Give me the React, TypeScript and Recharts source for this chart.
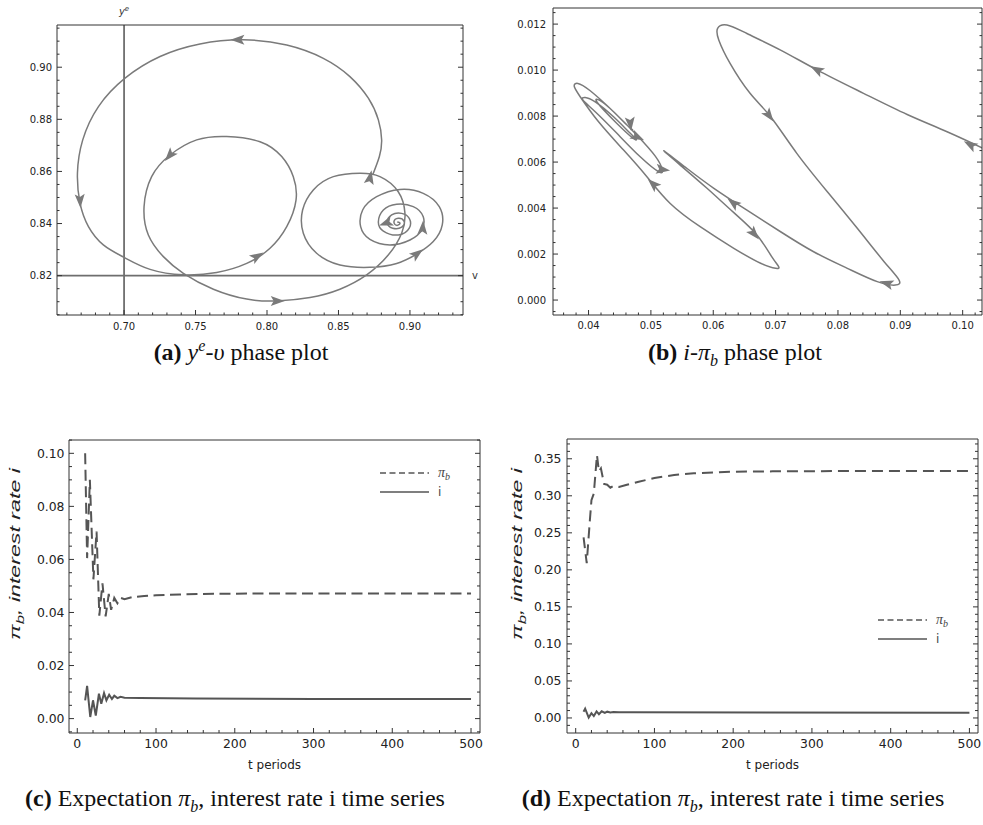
import React from 'react';
import { ComposedChart, Line, Scatter, XAxis, YAxis, ReferenceLine, Legend } from 'recharts';

// ---------- helpers ----------
const range = (a: number, b: number, s: number) => {
  const out: number[] = [];
  const n = Math.round((b - a) / s);
  for (let i = 0; i <= n; i++) out.push(+(a + i * s).toFixed(6));
  return out;
};

// ---------- Panel (a): y^e - v phase plot ----------
const aV = [
  0.8739, 0.8786, 0.8802, 0.8779, 0.8709, 0.8580, 0.8394, 0.8138, 0.7835, 0.7531,
  0.7252, 0.7007, 0.6821, 0.6711, 0.6674, 0.6692, 0.6751, 0.6855, 0.7000, 0.7182,
  0.7415, 0.7648, 0.7858, 0.8021, 0.8138, 0.8203, 0.8184, 0.8103, 0.7951, 0.7718,
  0.7508, 0.7322, 0.7193, 0.7140, 0.7170, 0.7275, 0.7415, 0.7625, 0.7858, 0.8068,
  0.8301, 0.8510, 0.8697, 0.8848, 0.8942, 0.8965, 0.8918, 0.8790, 0.8650, 0.8464,
  0.8324, 0.8249, 0.8254, 0.8347, 0.8510, 0.8720, 0.8907, 0.9047, 0.9163, 0.9226,
  0.9205, 0.9093, 0.8930, 0.8767, 0.8669, 0.8655, 0.8720, 0.8860, 0.9000, 0.9082,
  0.9093, 0.9023, 0.8907, 0.8814, 0.8779, 0.8814, 0.8918, 0.8995, 0.8995, 0.8942,
  0.8872, 0.8841, 0.8879, 0.8942, 0.8958, 0.8918, 0.8888, 0.8907, 0.8930, 0.8911,
];
const aYe = [
  0.8586, 0.8657, 0.8721, 0.8798, 0.8881, 0.8964, 0.9034, 0.9085, 0.9105, 0.9089,
  0.9041, 0.8958, 0.8849, 0.8721, 0.8593, 0.8478, 0.8388, 0.8318, 0.8270, 0.8224,
  0.8203, 0.8212, 0.8247, 0.8305, 0.8388, 0.8490, 0.8580, 0.8657, 0.8714, 0.8734,
  0.8721, 0.8663, 0.8580, 0.8465, 0.8356, 0.8273, 0.8209, 0.8148, 0.8110, 0.8103,
  0.8116, 0.8148, 0.8203, 0.8279, 0.8363, 0.8439, 0.8522, 0.8580, 0.8593, 0.8580,
  0.8529, 0.8452, 0.8363, 0.8286, 0.8241, 0.8232, 0.8247, 0.8283, 0.8331, 0.8395,
  0.8465, 0.8516, 0.8531, 0.8503, 0.8452, 0.8388, 0.8339, 0.8318, 0.8337, 0.8375,
  0.8426, 0.8465, 0.8474, 0.8452, 0.8407, 0.8371, 0.8356, 0.8382, 0.8420, 0.8439,
  0.8433, 0.8403, 0.8382, 0.8386, 0.8409, 0.8420, 0.8407, 0.8393, 0.8401, 0.8406,
];
const aArrowV = [0.7800, 0.6692, 0.7322, 0.7928, 0.8068, 0.8720, 0.9047, 0.9089, 0.8837];
const aArrowYe = [0.9105, 0.8490, 0.8663, 0.8273, 0.8103, 0.8574, 0.8283, 0.8381, 0.8403];
const aArrowDV = [-0.01, 0.0005, -0.0129, 0.0093, 0.01, 0.003, 0.0116, 0.0005, -0.005];
const aArrowDYe = [0, -0.005, -0.0083, 0.0032, 0, 0.008, 0.0048, 0.005, -0.001];
const aXMajor = [0.70, 0.75, 0.80, 0.85, 0.90];
const aYMajor = [0.82, 0.84, 0.86, 0.88, 0.90];

// ---------- Panel (b): i - pi_b phase plot ----------
const bPib = [
  0.1061, 0.1031, 0.0975, 0.0911, 0.0841, 0.0767, 0.0708, 0.0654, 0.0622, 0.0607,
  0.0609, 0.0627, 0.0659, 0.0692, 0.0734, 0.0783, 0.0831, 0.0874, 0.0898, 0.0892,
  0.0863, 0.0815, 0.0761, 0.0708, 0.0654, 0.0601, 0.0558, 0.0521, 0.0547, 0.0590,
  0.0633, 0.0670, 0.0694, 0.0705, 0.0700, 0.0676, 0.0633, 0.0579, 0.0531, 0.04936,
  0.04562, 0.04161, 0.03866, 0.0377, 0.03829, 0.04027, 0.04401, 0.04776, 0.0507, 0.05182,
  0.05124, 0.04829, 0.04455, 0.04107, 0.03909, 0.03946, 0.04107, 0.04401, 0.04669, 0.04765,
  0.04712, 0.04455, 0.04144, 0.04187, 0.04401, 0.04615, 0.04712,
];
const bI = [
  0.00623, 0.00662, 0.00732, 0.00807, 0.00899, 0.0100, 0.01087, 0.01159, 0.01196, 0.01181,
  0.0113, 0.01029, 0.00899, 0.00797, 0.00638, 0.00471, 0.00312, 0.00167, 0.00087, 0.00065,
  0.00080, 0.00138, 0.0021, 0.00297, 0.00391, 0.00486, 0.00572, 0.00649, 0.00587, 0.00486,
  0.0038, 0.00283, 0.00188, 0.00145, 0.00138, 0.0016, 0.00225, 0.00319, 0.0042, 0.00536,
  0.00652, 0.00775, 0.00884, 0.0093, 0.00942, 0.0091, 0.00819, 0.00717, 0.00626, 0.00568,
  0.00558, 0.00623, 0.00725, 0.00819, 0.0087, 0.00881, 0.00862, 0.00797, 0.00725, 0.00699,
  0.00704, 0.00768, 0.00858, 0.00867, 0.00819, 0.00761, 0.00739,
];
const bArrowPib = [0.1013, 0.0767, 0.0689, 0.0879, 0.0633, 0.0665, 0.05043, 0.0518, 0.04776, 0.0467];
const bArrowI = [0.00674, 0.0100, 0.00804, 0.00072, 0.0042, 0.0029, 0.00503, 0.00568, 0.0071, 0.0077];
const bArrowDPib = [-0.0038, -0.0059, 0.0045, -0.006, -0.0032, 0.0061, -0.0048, 0.003, 0.003, 0.0003];
const bArrowDI = [0.00058, 0.00087, -0.00166, 0.0005, 0.00066, -0.00192, 0.00123, -0.0001, -0.0004, -0.0008];
const bXMajor = [0.04, 0.05, 0.06, 0.07, 0.08, 0.09, 0.10];
const bYMajor = [0, 0.002, 0.004, 0.006, 0.008, 0.010, 0.012];

// ---------- Panel (c): time series ----------
const cPibT = [10, 12.5, 16, 20.5, 24.5, 28, 32, 36, 40, 43, 47, 51, 55, 60, 70, 85, 100, 130, 160, 200, 300, 400, 500];
const cPib = [0.100, 0.0605, 0.090, 0.0525, 0.0705, 0.0388, 0.051, 0.0385, 0.047, 0.041, 0.0455, 0.0435, 0.0455, 0.045, 0.0458, 0.0462, 0.0465, 0.0468, 0.047, 0.0471, 0.0472, 0.0472, 0.0472];
const cIT = [10, 12.5, 16.5, 20, 23.5, 27.5, 30.5, 34, 37, 40.5, 44, 47, 51, 55, 60, 80, 150, 300, 500];
const cI = [0.0069, 0.0123, 0.0006, 0.0069, 0.0011, 0.0094, 0.0056, 0.0096, 0.0069, 0.009, 0.0074, 0.0086, 0.0077, 0.0082, 0.0079, 0.0078, 0.0076, 0.0074, 0.0074];
const cYMajor = [0, 0.02, 0.04, 0.06, 0.08, 0.10];

// ---------- Panel (d): time series ----------
const dPibT = [10, 14, 18, 20, 23, 27, 29.5, 32, 36, 40, 44, 48, 55, 65, 80, 100, 125, 150, 200, 250, 350, 500];
const dPib = [0.244, 0.209, 0.267, 0.294, 0.303, 0.355, 0.333, 0.337, 0.316, 0.315, 0.311, 0.3135, 0.312, 0.315, 0.319, 0.324, 0.328, 0.3305, 0.3325, 0.333, 0.3335, 0.3335];
const dIT = [10, 12, 16.5, 20, 23, 26.5, 29.5, 33, 37, 40, 44, 48, 55, 70, 500];
const dI = [0.0085, 0.0126, 0.0005, 0.0065, 0.0025, 0.0088, 0.005, 0.009, 0.0068, 0.0085, 0.0074, 0.0081, 0.0077, 0.0076, 0.0072];
const dYMajor = [0, 0.05, 0.10, 0.15, 0.20, 0.25, 0.30, 0.35];

const tMajor = [0, 100, 200, 300, 400, 500];

// ---------- styles ----------
const FONT = "'DejaVu Sans', 'Liberation Sans', sans-serif";
const SERIF = "'Liberation Serif', 'Times New Roman', serif";
const FRAME = '#333';
const CURVE = '#7a7a7a';
const TS = '#555';

type Side = 'left' | 'right' | 'top' | 'bottom';
const makeTick = (side: Side, majors: number[], digits: number, majLen: number, minLen: number, fontSize: number, gap: number, showLabel: boolean) =>
  (props: any) => {
    const { x, y, payload } = props;
    const v = Number(payload.value);
    const isMajor = majors.some((m) => Math.abs(m - v) < 1e-7);
    const len = isMajor ? majLen : minLen;
    let x2 = x, y2 = y;
    if (side === 'left') x2 = x + len;
    if (side === 'right') x2 = x - len;
    if (side === 'bottom') y2 = y - len;
    if (side === 'top') y2 = y + len;
    let label: any = null;
    if (showLabel && isMajor) {
      const txt = v.toFixed(digits);
      if (side === 'left') {
        label = <text x={x - gap} y={y + fontSize * 0.36} textAnchor="end" fontFamily={FONT} fontSize={fontSize} fill="#222">{txt}</text>;
      } else if (side === 'bottom') {
        label = <text x={x} y={y + gap} textAnchor="middle" fontFamily={FONT} fontSize={fontSize} fill="#222">{txt}</text>;
      }
    }
    return (
      <g>
        <line x1={x} y1={y} x2={x2} y2={y2} stroke={FRAME} strokeWidth={1} />
        {label}
      </g>
    );
  };

const arrowShape = (kx: number, ky: number) => (props: any) => {
  const { cx, cy, payload } = props;
  if (cx == null || cy == null) return <g />;
  const ang = (Math.atan2(-payload.dy * ky, payload.dx * kx) * 180) / Math.PI;
  return (
    <path d="M8,0 L-6,-5 L-3,0 L-6,5 Z" transform={`translate(${cx},${cy}) rotate(${ang})`} fill={CURVE} stroke="none" />
  );
};

// ---------- panel geometry (top / right frame axes take 1px each) ----------
const A = { w: 490, h: 345, m: { top: 24, right: 26, bottom: 5, left: 0 }, yw: 57, xh: 25, xd: [0.6531, 0.9371] as [number, number], yd: [0.8049, 0.9162] as [number, number] };
const B = { w: 493, h: 345, m: { top: 7, right: 0, bottom: 5, left: 0 }, yw: 63, xh: 25, xd: [0.0343, 0.1031] as [number, number], yd: [-0.00065, 0.0127] as [number, number] };
const C = { w: 490, h: 360, m: { top: 19, right: 9, bottom: 5, left: 0 }, yw: 69, xh: 42, xd: [-10.5, 511.4] as [number, number], yd: [-0.00543, 0.10502] as [number, number] };
const D = { w: 493, h: 360, m: { top: 18, right: 4, bottom: 5, left: 0 }, yw: 77, xh: 42, xd: [-11.05, 510.9] as [number, number], yd: [-0.0203, 0.3767] as [number, number] };

const scaleK = (P: any) => {
  const pw = P.w - P.m.left - P.m.right - P.yw - 1;
  const ph = P.h - P.m.top - P.m.bottom - P.xh - 1;
  return { kx: pw / (P.xd[1] - P.xd[0]), ky: ph / (P.yd[1] - P.yd[0]) };
};

// ---------- data tables ----------
const aPath = aV.map((v, i) => ({ x: v, y: aYe[i] }));
const aArrows = aArrowV.map((v, i) => ({ x: v, y: aArrowYe[i], dx: aArrowDV[i], dy: aArrowDYe[i] }));
const bPath = bPib.map((p, i) => ({ x: p, y: bI[i] }));
const bArrows = bArrowPib.map((p, i) => ({ x: p, y: bArrowI[i], dx: bArrowDPib[i], dy: bArrowDI[i] }));
const cPibData = cPibT.map((t, i) => ({ t, pib: cPib[i] }));
const cIData = cIT.map((t, i) => ({ t, i: cI[i] }));
const dPibData = dPibT.map((t, i) => ({ t, pib: dPib[i] }));
const dIData = dIT.map((t, i) => ({ t, i: dI[i] }));

// ---------- frame axes ----------
const frameAxes = (P: any, xKey: string, xTicks: number[], yTicks: number[], xMaj: number[], yMaj: number[], xd: number, yd: number, fs: number, majLen: number, minLen: number, xGap: number, yGap: number, xLabel?: any, yLabel?: any) => [
  <XAxis key="xb" xAxisId="b" type="number" dataKey={xKey} domain={P.xd} allowDataOverflow ticks={xTicks} interval={0}
    tickSize={0} tickMargin={0} tickLine={false} axisLine={{ stroke: FRAME, strokeWidth: 1 }} height={P.xh}
    tick={makeTick('bottom', xMaj, xd, majLen, minLen, fs, xGap, true)} label={xLabel} />,
  <XAxis key="xt" xAxisId="t" orientation="top" type="number" domain={P.xd} allowDataOverflow ticks={xTicks} interval={0}
    tickSize={0} tickMargin={0} tickLine={false} axisLine={{ stroke: FRAME, strokeWidth: 1 }} height={1}
    tick={makeTick('top', xMaj, xd, majLen, minLen, fs, 0, false)} />,
  <YAxis key="yl" yAxisId="l" type="number" domain={P.yd} allowDataOverflow ticks={yTicks} interval={0}
    tickSize={0} tickMargin={0} tickLine={false} axisLine={{ stroke: FRAME, strokeWidth: 1 }} width={P.yw}
    tick={makeTick('left', yMaj, yd, majLen, minLen, fs, yGap, true)} label={yLabel} />,
  <YAxis key="yr" yAxisId="r" orientation="right" type="number" domain={P.yd} allowDataOverflow ticks={yTicks} interval={0}
    tickSize={0} tickMargin={0} tickLine={false} axisLine={{ stroke: FRAME, strokeWidth: 1 }} width={1}
    tick={makeTick('right', yMaj, yd, majLen, minLen, fs, 0, false)} />,
];

const renderYe = (props: any) => {
  const vb = props.viewBox || {};
  return (
    <text x={vb.x} y={vb.y - 10} textAnchor="middle" fontFamily={FONT} fontSize={10} fontStyle="italic" fill="#333">
      y<tspan dy={-4} fontSize={7}>e</tspan>
    </text>
  );
};
const renderV = (props: any) => {
  const vb = props.viewBox || {};
  return (
    <text x={vb.x + vb.width + 12} y={vb.y + 3.5} textAnchor="middle" fontFamily={FONT} fontSize={10} fill="#333">v</text>
  );
};

const tLabel = (props: any) => {
  const vb = props.viewBox || {};
  return (
    <text x={vb.x + vb.width / 2} y={vb.y + 36} textAnchor="middle" fontFamily={FONT} fontSize={12} fill="#222">t periods</text>
  );
};
const yLabelAt = (cxLocal: number, cyLocal: number) => () => (
  <text transform={`translate(${cxLocal + 5},${cyLocal}) rotate(-90) scale(1.6,1)`} textAnchor="middle" fontFamily="'Liberation Sans', Arial, sans-serif"
    fontStyle="italic" fontSize={14.5} fill="#222">
    π<tspan dy={3.5} fontSize={10.5}>b</tspan><tspan dy={-3.5}>, interest rate i</tspan>
  </text>
);

const renderLegend = (props: any) => {
  const items = [...(props.payload || [])].sort((p: any, q: any) => (p.dataKey === 'pib' ? -1 : 0) - (q.dataKey === 'pib' ? -1 : 0));
  return (
    <svg width={90} height={44} style={{ overflow: 'visible' }}>
      {items.map((e: any, idx: number) => {
        const yy = 12 + idx * 19;
        const dashed = e.dataKey === 'pib';
        return (
          <g key={idx}>
            <line x1={4} x2={53} y1={yy} y2={yy} stroke={TS} strokeWidth={1.5} strokeDasharray={dashed ? '6 3.5' : undefined} />
            {dashed ? (
              <text x={62} y={yy + 4} fontFamily={SERIF} fontStyle="italic" fontSize={14} fill="#444">π<tspan dy={3} fontSize={10}>b</tspan></text>
            ) : (
              <text x={62} y={yy + 4} fontFamily={FONT} fontSize={12} fill="#444">i</text>
            )}
          </g>
        );
      })}
    </svg>
  );
};

const capStyle: React.CSSProperties = { position: 'absolute', width: 480, textAlign: 'center', fontFamily: SERIF, fontSize: 24, lineHeight: '28px', color: '#111', whiteSpace: 'nowrap' };
const subStyle: React.CSSProperties = { fontSize: 16, verticalAlign: 'sub', lineHeight: 0, fontStyle: 'italic' };

export default function App() {
  const ka = scaleK(A);
  const kb = scaleK(B);
  return (
    <div style={{ position: 'absolute', left: 0, top: 0, width: 983, height: 825, background: '#fff', overflow: 'hidden' }}>
      {/* (a) */}
      <div style={{ position: 'absolute', left: 0, top: 0 }}>
        <ComposedChart width={A.w} height={A.h} margin={A.m}>
          {frameAxes(A, 'x', range(0.66, 0.93, 0.01), range(0.805, 0.915, 0.005), aXMajor, aYMajor, 2, 2, 10, 5, 2.5, 15, 5)}
          <ReferenceLine xAxisId="b" yAxisId="l" x={0.70} stroke="#111" strokeWidth={1.1} label={renderYe} />
          <ReferenceLine xAxisId="b" yAxisId="l" y={0.82} stroke="#6e6e6e" strokeWidth={1.7} label={renderV} />
          <Line xAxisId="b" yAxisId="l" data={aPath} dataKey="y" type="natural" stroke={CURVE} strokeWidth={1.5} dot={false} activeDot={false} isAnimationActive={false} />
          <Scatter xAxisId="b" yAxisId="l" data={aArrows} dataKey="y" shape={arrowShape(ka.kx, ka.ky)} isAnimationActive={false} />
        </ComposedChart>
      </div>
      {/* (b) */}
      <div style={{ position: 'absolute', left: 490, top: 0 }}>
        <ComposedChart width={B.w} height={B.h} margin={B.m}>
          {frameAxes(B, 'x', range(0.036, 0.102, 0.002), range(-0.0005, 0.0125, 0.0005), bXMajor, bYMajor, 2, 3, 10, 5, 2.5, 14, 7)}
          <Line xAxisId="b" yAxisId="l" data={bPath} dataKey="y" type="natural" stroke={CURVE} strokeWidth={1.5} dot={false} activeDot={false} isAnimationActive={false} />
          <Scatter xAxisId="b" yAxisId="l" data={bArrows} dataKey="y" shape={arrowShape(kb.kx, kb.ky)} isAnimationActive={false} />
        </ComposedChart>
      </div>
      {/* (c) */}
      <div style={{ position: 'absolute', left: 0, top: 420 }}>
        <ComposedChart width={C.w} height={C.h} margin={C.m}>
          {frameAxes(C, 't', range(0, 500, 20), range(-0.005, 0.105, 0.005), tMajor, cYMajor, 0, 2, 12.4, 5, 3, 15, 4.5, tLabel, yLabelAt(15, 134))}
          <Line xAxisId="b" yAxisId="l" data={cPibData} dataKey="pib" name="π_b" type="linear" stroke={TS} strokeWidth={2} strokeDasharray="11 5.5" dot={false} activeDot={false} isAnimationActive={false} />
          <Line xAxisId="b" yAxisId="l" data={cIData} dataKey="i" name="i" type="linear" stroke={TS} strokeWidth={2} dot={false} activeDot={false} isAnimationActive={false} />
          <Legend layout="vertical" align="center" verticalAlign="middle" content={renderLegend} wrapperStyle={{ left: 376, top: 41, width: 90, height: 44 }} />
        </ComposedChart>
      </div>
      {/* (d) */}
      <div style={{ position: 'absolute', left: 490, top: 420 }}>
        <ComposedChart width={D.w} height={D.h} margin={D.m}>
          {frameAxes(D, 't', range(0, 500, 20), range(-0.01, 0.37, 0.01), tMajor, dYMajor, 0, 2, 12.4, 5, 3, 15, 5.5, tLabel, yLabelAt(27, 134))}
          <Line xAxisId="b" yAxisId="l" data={dPibData} dataKey="pib" name="π_b" type="linear" stroke={TS} strokeWidth={2} strokeDasharray="11 6" dot={false} activeDot={false} isAnimationActive={false} />
          <Line xAxisId="b" yAxisId="l" data={dIData} dataKey="i" name="i" type="linear" stroke={TS} strokeWidth={2} dot={false} activeDot={false} isAnimationActive={false} />
          <Legend layout="vertical" align="center" verticalAlign="middle" content={renderLegend} wrapperStyle={{ left: 384, top: 188, width: 90, height: 44 }} />
        </ComposedChart>
      </div>
      {/* captions */}
      <div style={{ ...capStyle, left: 241 - 240, top: 338 }}>
        <b>(a)</b> <i>y</i><span style={{ fontSize: 16, verticalAlign: 'super', lineHeight: 0, fontStyle: 'italic' }}>e</span>-<i>υ</i> phase plot
      </div>
      <div style={{ ...capStyle, left: 735 - 240, top: 338 }}>
        <b>(b)</b> <i>i</i>-<i>π</i><span style={subStyle}>b</span> phase plot
      </div>
      <div style={{ ...capStyle, left: 235 - 240, top: 784 }}>
        <b>(c)</b> Expectation <i>π</i><span style={subStyle}>b</span>, interest rate i time series
      </div>
      <div style={{ ...capStyle, left: 733 - 240, top: 784 }}>
        <b>(d)</b> Expectation <i>π</i><span style={subStyle}>b</span>, interest rate i time series
      </div>
    </div>
  );
}
